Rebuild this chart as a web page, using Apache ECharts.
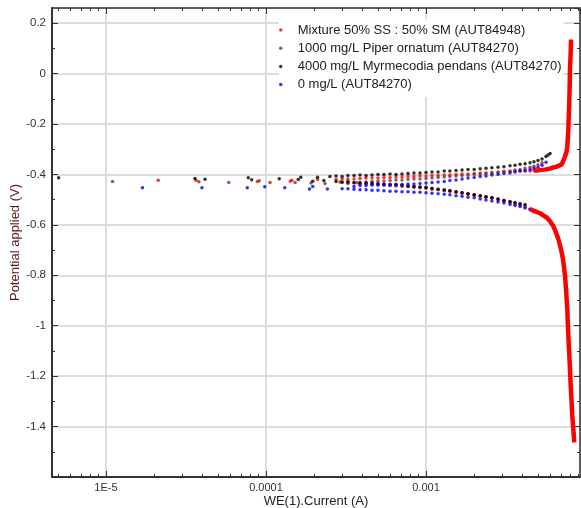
<!DOCTYPE html>
<html>
<head>
<meta charset="utf-8">
<script src="https://cdn.jsdelivr.net/npm/echarts@6/dist/echarts.min.js"></script>
<style>
  html, body { margin: 0; padding: 0; background: #fff; }
  #main { width: 581px; height: 508px; }
</style>
</head>
<body>
<div id="main"></div>
<script>
// series names (legend order)
var seriesNames = [
  'Mixture 50% SS : 50% SM (AUT84948)',
  '1000 mg/L Piper ornatum (AUT84270)',
  '4000 mg/L Myrmecodia pendans (AUT84270)',
  '0 mg/L (AUT84270)'
];

// [current (A), potential (V)]
var redPoints = [
  [2.12e-5,-0.423],[3.65e-5,-0.423],[8.83e-5,-0.428],[1.42e-4,-0.427],[1.45e-4,-0.423],[2.10e-4,-0.420],
  [2.74e-4,-0.420],[2.99e-4,-0.418],[3.25e-4,-0.418],[3.55e-4,-0.418],[3.87e-4,-0.416],[4.22e-4,-0.414],
  [4.60e-4,-0.414],[5.01e-4,-0.414],[5.46e-4,-0.412],[5.96e-4,-0.412],[6.49e-4,-0.410],[7.08e-4,-0.410],
  [7.72e-4,-0.408],[8.41e-4,-0.408],[9.17e-4,-0.406],[1.00e-3,-0.406],[1.09e-3,-0.404],[1.19e-3,-0.404],
  [1.30e-3,-0.402],[1.41e-3,-0.402],[1.54e-3,-0.400],[1.68e-3,-0.398],[1.83e-3,-0.398],[2.00e-3,-0.396],
  [2.18e-3,-0.394],[2.37e-3,-0.394],[2.58e-3,-0.392],[2.82e-3,-0.390],[3.07e-3,-0.388],[3.35e-3,-0.388],
  [3.60e-3,-0.386],[3.87e-3,-0.386],[4.16e-3,-0.386],[4.47e-3,-0.386],[4.73e-3,-0.384],
  [2.99e-4,-0.432],[3.25e-4,-0.434],[3.55e-4,-0.434],[3.87e-4,-0.436],[4.22e-4,-0.436],[4.60e-4,-0.438],
  [5.01e-4,-0.440],[5.46e-4,-0.442],[5.96e-4,-0.444],[6.49e-4,-0.444],[7.08e-4,-0.446],[7.72e-4,-0.448],
  [8.41e-4,-0.450],[9.17e-4,-0.453],[1.00e-3,-0.455],[1.09e-3,-0.459],[1.19e-3,-0.461],[1.30e-3,-0.465],
  [1.41e-3,-0.467],[1.54e-3,-0.471],[1.68e-3,-0.475],[1.83e-3,-0.479],[2.00e-3,-0.483],[2.18e-3,-0.487],
  [2.37e-3,-0.491],[2.58e-3,-0.495],[2.82e-3,-0.501],[3.07e-3,-0.505],[3.35e-3,-0.511],[3.60e-3,-0.517],
  [3.87e-3,-0.523],[4.16e-3,-0.529],[4.47e-3,-0.537]
];
// the dense red ends, drawn as a thick trace
var redCathodicTail = [
  [4.47e-3,-0.537],[4.73e-3,-0.545],[5.16e-3,-0.554],[5.68e-3,-0.571],[5.96e-3,-0.586],[6.25e-3,-0.605],
  [6.49e-3,-0.630],[6.72e-3,-0.657],[6.88e-3,-0.681],[7.05e-3,-0.710],[7.18e-3,-0.737],[7.29e-3,-0.768],
  [7.39e-3,-0.803],[7.50e-3,-0.855],[7.64e-3,-0.935],[7.72e-3,-1.014],[7.83e-3,-1.093],[7.94e-3,-1.172],
  [8.02e-3,-1.238],[8.11e-3,-1.291],[8.21e-3,-1.357],[8.33e-3,-1.410],[8.45e-3,-1.463]
];
var redAnodicTail = [
  [4.73e-3,-0.384],[5.01e-3,-0.384],[5.31e-3,-0.382],[5.62e-3,-0.380],[5.96e-3,-0.377],[6.25e-3,-0.372],
  [6.49e-3,-0.370],[6.72e-3,-0.366],[7.05e-3,-0.360],[7.18e-3,-0.349],[7.39e-3,-0.329],[7.57e-3,-0.309],
  [7.64e-3,-0.288],[7.75e-3,-0.222],[7.86e-3,-0.116],[7.94e-3,0.016],[8.02e-3,0.082],[8.06e-3,0.135]
];
var brownPoints = [
  [1.10e-5,-0.428],[3.81e-5,-0.429],[5.85e-5,-0.432],[9.08e-5,-0.425],[1.06e-4,-0.432],[1.52e-4,-0.432],
  [1.91e-4,-0.434],[2.34e-4,-0.436],
  [2.90e-4,-0.430],[3.25e-4,-0.428],[3.69e-4,-0.433],[4.22e-4,-0.430],[4.60e-4,-0.428],[5.01e-4,-0.426],
  [5.46e-4,-0.426],[5.96e-4,-0.424],[6.49e-4,-0.422],[7.08e-4,-0.422],[7.72e-4,-0.420],[8.41e-4,-0.418],
  [9.17e-4,-0.418],[1.00e-3,-0.416],[1.09e-3,-0.414],[1.19e-3,-0.412],[1.30e-3,-0.410],[1.41e-3,-0.408],
  [1.54e-3,-0.406],[1.68e-3,-0.404],[1.83e-3,-0.402],[2.00e-3,-0.400],[2.18e-3,-0.398],[2.37e-3,-0.396],
  [2.58e-3,-0.394],[2.82e-3,-0.392],[3.07e-3,-0.388],[3.35e-3,-0.386],[3.60e-3,-0.382],[3.87e-3,-0.380],
  [4.16e-3,-0.376],[4.47e-3,-0.372],[4.73e-3,-0.368],[5.01e-3,-0.362],[5.31e-3,-0.354],
  [3.25e-4,-0.436],[3.87e-4,-0.438],[4.22e-4,-0.438],[4.60e-4,-0.440],[5.01e-4,-0.440],[5.46e-4,-0.442],
  [5.96e-4,-0.444],[6.49e-4,-0.446],[7.08e-4,-0.446],[7.72e-4,-0.448],[8.41e-4,-0.450],[9.17e-4,-0.451],
  [1.00e-3,-0.453],[1.09e-3,-0.457],[1.19e-3,-0.459],[1.30e-3,-0.463],[1.41e-3,-0.465],[1.54e-3,-0.469],
  [1.68e-3,-0.473],[1.83e-3,-0.477],[2.00e-3,-0.481],[2.18e-3,-0.485],[2.37e-3,-0.489],[2.58e-3,-0.493],
  [2.82e-3,-0.497],[3.07e-3,-0.503],[3.35e-3,-0.509],[3.60e-3,-0.513],[3.87e-3,-0.519],[4.16e-3,-0.523]
];
var blackPoints = [
  [5.06e-6,-0.413],[3.60e-5,-0.416],[4.16e-5,-0.419],[7.75e-5,-0.413],[8.14e-5,-0.421],[1.21e-4,-0.417],
  [1.59e-4,-0.420],[1.65e-4,-0.411],[1.96e-4,-0.427],[2.10e-4,-0.411],[2.30e-4,-0.424],
  [2.51e-4,-0.408],[2.74e-4,-0.406],[2.99e-4,-0.408],[3.25e-4,-0.404],[3.55e-4,-0.404],[3.87e-4,-0.402],
  [4.22e-4,-0.404],[4.60e-4,-0.402],[5.01e-4,-0.400],[5.46e-4,-0.400],[5.96e-4,-0.398],[6.49e-4,-0.400],
  [7.08e-4,-0.398],[7.72e-4,-0.396],[8.41e-4,-0.394],[9.17e-4,-0.394],[1.00e-3,-0.392],[1.09e-3,-0.390],
  [1.19e-3,-0.390],[1.30e-3,-0.386],[1.41e-3,-0.386],[1.54e-3,-0.384],[1.68e-3,-0.382],[1.83e-3,-0.380],
  [2.00e-3,-0.380],[2.18e-3,-0.378],[2.37e-3,-0.376],[2.58e-3,-0.374],[2.82e-3,-0.372],[3.07e-3,-0.370],
  [3.35e-3,-0.366],[3.60e-3,-0.364],[3.87e-3,-0.360],[4.16e-3,-0.358],[4.47e-3,-0.354],[4.73e-3,-0.350],
  [5.01e-3,-0.345],[5.31e-3,-0.339],[5.62e-3,-0.329],[5.79e-3,-0.323],[5.96e-3,-0.317],
  [2.74e-4,-0.428],[2.99e-4,-0.430],[3.25e-4,-0.430],[3.55e-4,-0.432],[3.87e-4,-0.432],[4.22e-4,-0.434],
  [4.60e-4,-0.434],[5.01e-4,-0.436],[5.46e-4,-0.438],[5.96e-4,-0.440],[6.49e-4,-0.440],[7.08e-4,-0.442],
  [7.72e-4,-0.446],[8.41e-4,-0.448],[9.17e-4,-0.450],[1.00e-3,-0.451],[1.09e-3,-0.455],[1.19e-3,-0.459],
  [1.30e-3,-0.461],[1.41e-3,-0.465],[1.54e-3,-0.469],[1.68e-3,-0.473],[1.83e-3,-0.477],[2.00e-3,-0.481],
  [2.18e-3,-0.485],[2.37e-3,-0.489],[2.58e-3,-0.493],[2.82e-3,-0.497],[3.07e-3,-0.503],[3.35e-3,-0.507],
  [3.60e-3,-0.511],[3.87e-3,-0.515],[4.16e-3,-0.519]
];
var bluePoints = [
  [1.69e-5,-0.453],[3.98e-5,-0.453],[7.64e-5,-0.453],[9.82e-5,-0.449],[1.31e-4,-0.453],[1.87e-4,-0.458],
  [1.96e-4,-0.448],[2.42e-4,-0.458],
  [2.99e-4,-0.457],[3.25e-4,-0.457],[3.55e-4,-0.459],[3.87e-4,-0.461],[4.22e-4,-0.461],[4.60e-4,-0.463],
  [5.01e-4,-0.463],[5.46e-4,-0.465],[5.96e-4,-0.467],[6.49e-4,-0.467],[7.08e-4,-0.469],[7.72e-4,-0.469],
  [8.41e-4,-0.471],[9.17e-4,-0.471],[1.00e-3,-0.473],[1.09e-3,-0.475],[1.19e-3,-0.477],[1.30e-3,-0.479],
  [1.41e-3,-0.481],[1.54e-3,-0.485],[1.68e-3,-0.487],[1.83e-3,-0.491],[2.00e-3,-0.493],[2.18e-3,-0.497],
  [2.37e-3,-0.501],[2.58e-3,-0.505],[2.82e-3,-0.509],[3.07e-3,-0.513],[3.35e-3,-0.519],[3.60e-3,-0.523],
  [3.87e-3,-0.527],[4.16e-3,-0.533],[4.47e-3,-0.539],[4.73e-3,-0.545],
  [3.55e-4,-0.448],[3.87e-4,-0.444],[4.22e-4,-0.444],[4.60e-4,-0.442],[5.01e-4,-0.442],[5.46e-4,-0.440],
  [5.96e-4,-0.440],[6.49e-4,-0.440],[7.08e-4,-0.440],[7.72e-4,-0.438],[8.41e-4,-0.438],[9.17e-4,-0.436],
  [1.00e-3,-0.434],[1.09e-3,-0.432],[1.19e-3,-0.430],[1.30e-3,-0.428],[1.41e-3,-0.424],[1.54e-3,-0.422],
  [1.68e-3,-0.418],[1.83e-3,-0.414],[2.00e-3,-0.412],[2.18e-3,-0.408],[2.37e-3,-0.406],[2.58e-3,-0.402],
  [2.82e-3,-0.400],[3.07e-3,-0.396],[3.35e-3,-0.394],[3.60e-3,-0.390],[3.87e-3,-0.386],[4.16e-3,-0.384],
  [4.47e-3,-0.380],[4.73e-3,-0.376],[5.01e-3,-0.372],[5.31e-3,-0.364],[5.62e-3,-0.352]
];

// axes
var xMin = 4.6e-6, xMax = 9.17e-3;
var yMin = -1.6, yMax = 0.26, yStep = 0.2;
var xTickValues = [1e-5, 1e-4, 1e-3];
var xTickLabels = ['1E-5', '0.0001', '0.001'];
var xMinorTicks = [
  5e-6, 6e-6, 7e-6, 8e-6, 9e-6,
  2e-5, 3e-5, 4e-5, 5e-5, 6e-5, 7e-5, 8e-5, 9e-5,
  2e-4, 3e-4, 4e-4, 5e-4, 6e-4, 7e-4, 8e-4, 9e-4,
  2e-3, 3e-3, 4e-3, 5e-3, 6e-3, 7e-3, 8e-3, 9e-3
];
var yMinorTicks = [-1.5, -1.3, -1.1, -0.9, -0.7, -0.5, -0.3, -0.1, 0.1];

var font = 'Arial, "Liberation Sans", sans-serif';
var axisColor = '#333';
var gridColor = '#dddddd';

function xLabel(v) {
  for (var i = 0; i < xTickValues.length; i++) {
    if (Math.abs(Math.log10(v) - Math.log10(xTickValues[i])) < 1e-6) return xTickLabels[i];
  }
  return '';
}

// minor tick overlay axes work in log10 units
function minorX(pos) {
  return {
    type: 'value', position: pos,
    min: Math.log10(xMin), max: Math.log10(xMax),
    axisLine: { show: false, onZero: false },
    axisLabel: { show: false },
    splitLine: { show: false },
    axisTick: { show: true, inside: true, length: 3, customValues: xMinorTicks.map(Math.log10),
                lineStyle: { color: axisColor, width: 1 } }
  };
}
function minorY(pos) {
  return {
    type: 'value', position: pos, min: yMin, max: yMax,
    axisLine: { show: false, onZero: false },
    axisLabel: { show: false },
    splitLine: { show: false },
    axisTick: { show: true, inside: true, length: 3, customValues: yMinorTicks,
                lineStyle: { color: axisColor, width: 1 } }
  };
}

var chart = echarts.init(document.getElementById('main'), null, { renderer: 'canvas' });

var scatterBase = { type: 'scatter', symbol: 'circle', symbolSize: 3.5, xAxisIndex: 0, yAxisIndex: 0 };

chart.setOption({
  animation: false,
  backgroundColor: '#fff',
  textStyle: { fontFamily: font },
  grid: { left: 52, right: 1, top: 8, bottom: 31, outerBoundsMode: 'none' },
  legend: {
    orient: 'vertical', left: 279, top: 19.5,
    padding: [4, 2, 6, 0],
    itemWidth: 24, itemHeight: 3.5, itemGap: 5.2,
    icon: 'circle',
    backgroundColor: '#fff',
    selectedMode: false,
    textStyle: { fontSize: 13, color: '#222', fontFamily: font },
    data: seriesNames
  },
  xAxis: [
    {
      type: 'log', logBase: 10, position: 'bottom', min: xMin, max: xMax,
      name: 'WE(1).Current (A)', nameLocation: 'middle', nameGap: 18, nameMoveOverlap: false,
      nameTextStyle: { fontSize: 13, color: '#222', fontFamily: font },
      axisLine: { show: true, onZero: false, lineStyle: { color: axisColor, width: 2 } },
      axisTick: { show: true, inside: true, length: 6, lineStyle: { color: axisColor, width: 1 } },
      minorTick: { show: false },
      axisLabel: { showMinLabel: false, showMaxLabel: false, margin: 5, fontSize: 11,
                   color: axisColor, fontFamily: font, formatter: xLabel },
      splitLine: { show: true, lineStyle: { color: gridColor, width: 2 } }
    },
    minorX('bottom'),
    {
      type: 'log', logBase: 10, position: 'top', min: xMin, max: xMax,
      axisLine: { show: true, onZero: false, lineStyle: { color: axisColor, width: 1.5 } },
      axisTick: { show: true, inside: true, length: 6, lineStyle: { color: axisColor, width: 1 } },
      axisLabel: { show: false },
      splitLine: { show: false }
    },
    minorX('top')
  ],
  yAxis: [
    {
      type: 'value', position: 'left', min: yMin, max: yMax, interval: yStep,
      name: 'Potential applied (V)', nameLocation: 'middle', nameGap: 30, nameMoveOverlap: false,
      nameTextStyle: { fontSize: 13, color: '#5a1a1a', fontFamily: font },
      axisLine: { show: true, onZero: false, lineStyle: { color: axisColor, width: 2 } },
      axisTick: { show: true, inside: true, length: 6, lineStyle: { color: axisColor, width: 1 } },
      axisLabel: { showMinLabel: false, showMaxLabel: false, margin: 6, fontSize: 11.5,
                   color: axisColor, fontFamily: font },
      splitLine: { show: true, lineStyle: { color: gridColor, width: 2 } }
    },
    {
      type: 'value', position: 'right', min: yMin, max: yMax, interval: yStep,
      axisLine: { show: true, onZero: false, lineStyle: { color: axisColor, width: 1.5 } },
      axisTick: { show: true, inside: true, length: 6, lineStyle: { color: axisColor, width: 1 } },
      axisLabel: { show: false },
      splitLine: { show: false }
    },
    minorY('left'),
    minorY('right')
  ],
  series: [
    Object.assign({}, scatterBase, { name: seriesNames[0], itemStyle: { color: '#ff0000' }, data: redPoints }),
    { type: 'line', name: seriesNames[0], xAxisIndex: 0, yAxisIndex: 0, showSymbol: false, symbol: 'none',
      lineStyle: { color: '#ff0000', width: 4.5 }, itemStyle: { color: '#ff0000' }, data: redCathodicTail },
    { type: 'line', name: seriesNames[0], xAxisIndex: 0, yAxisIndex: 0, showSymbol: false, symbol: 'none',
      lineStyle: { color: '#ff0000', width: 4.5 }, itemStyle: { color: '#ff0000' }, data: redAnodicTail },
    Object.assign({}, scatterBase, { name: seriesNames[1], itemStyle: { color: '#8b3030' }, data: brownPoints }),
    Object.assign({}, scatterBase, { name: seriesNames[2], itemStyle: { color: '#000000' }, data: blackPoints }),
    Object.assign({}, scatterBase, { name: seriesNames[3], itemStyle: { color: '#0000ff' }, data: bluePoints })
  ]
});
</script>
</body>
</html>
